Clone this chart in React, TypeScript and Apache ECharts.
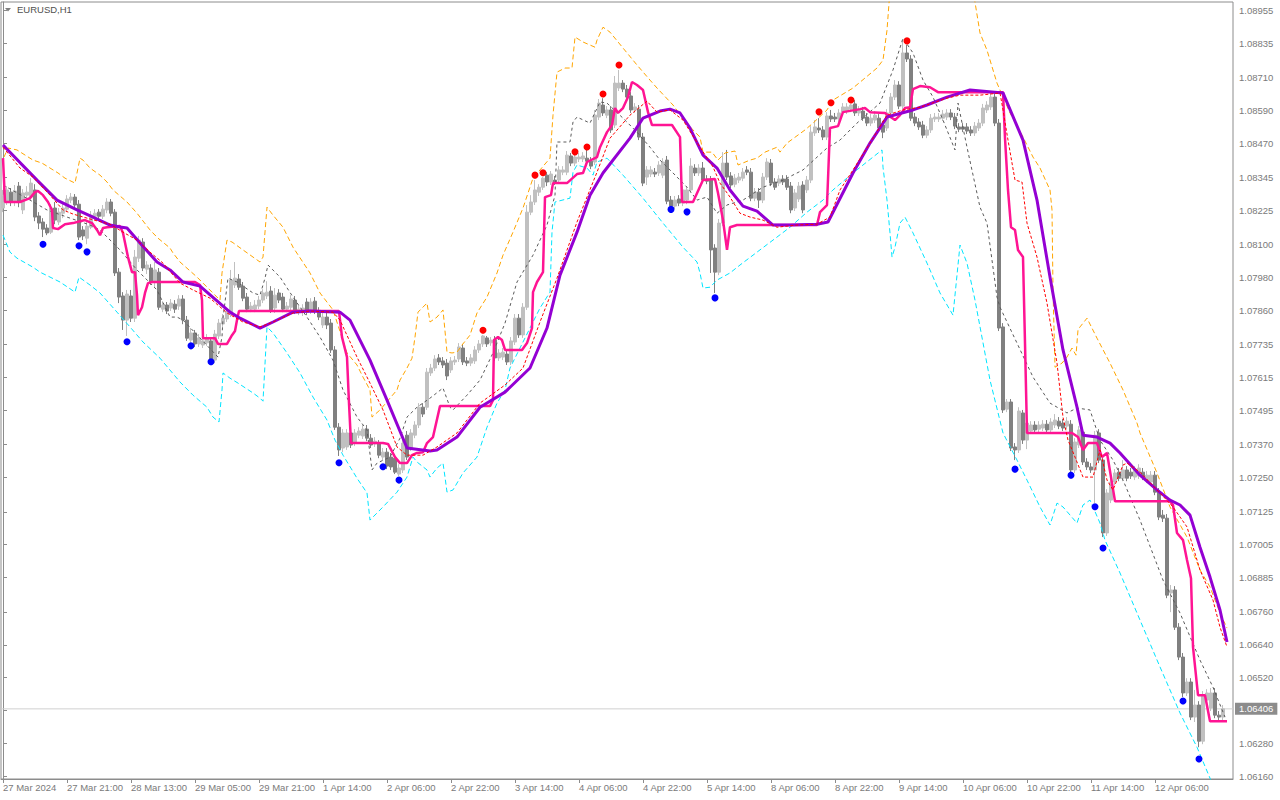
import React, { useEffect, useRef } from "react";
import * as echarts from "echarts";

// ---- categories (H1 bars) ----
const DAYS: [string, number, number][] = [
  ["27 Mar", 5, 23], ["28 Mar", 0, 23], ["29 Mar", 0, 22],
  ["1 Apr", 0, 23], ["2 Apr", 0, 23], ["3 Apr", 0, 23], ["4 Apr", 0, 23], ["5 Apr", 0, 23],
  ["8 Apr", 0, 23], ["9 Apr", 0, 23], ["10 Apr", 0, 23], ["11 Apr", 0, 23], ["12 Apr", 0, 23],
];
const FIRST_LABEL = "27 Mar 2024";
const EMPTY_SLOTS = 2;

// ---- price axis ----
const Y_MIN = 1.0615;
const Y_MAX = 1.08986;
const PRICE_LABELS = [1.0616, 1.0628, 1.0652, 1.0664, 1.0676, 1.06885, 1.07005, 1.07125, 1.0725, 1.0737, 1.07495, 1.07615, 1.07735, 1.0786, 1.0798, 1.081, 1.08225, 1.08345, 1.0847, 1.0859, 1.0871, 1.08835, 1.08955];
const PRICE_TICKS = [1.0616, 1.0628, 1.064, 1.0652, 1.0664, 1.0676, 1.06885, 1.07005, 1.07125, 1.0725, 1.0737, 1.07495, 1.07615, 1.07735, 1.0786, 1.0798, 1.081, 1.08225, 1.08345, 1.0847, 1.0859, 1.0871, 1.08835, 1.08955];
const LAST_PRICE = 1.06406;

// ---- candles [open, close, low, high] ----
const OHLC: number[][] = [
[1.08234,1.08281,1.08219,1.08300],[1.08256,1.08300,1.08245,1.08314],[1.08292,1.08256,1.08241,1.08307],[1.08259,1.08296,1.08241,1.08318],
[1.08314,1.08256,1.08237,1.08329],[1.08227,1.08289,1.08212,1.08303],[1.08281,1.08292,1.08263,1.08314],[1.08274,1.08325,1.08263,1.08343],
[1.08300,1.08201,1.08186,1.08321],[1.08205,1.08179,1.08157,1.08219],[1.08183,1.08157,1.08128,1.08197],[1.08161,1.08143,1.08135,1.08175],
[1.08146,1.08234,1.08139,1.08248],[1.08234,1.08190,1.08175,1.08256],[1.08183,1.08219,1.08172,1.08234],[1.08215,1.08234,1.08197,1.08252],
[1.08230,1.08267,1.08219,1.08281],[1.08263,1.08274,1.08252,1.08289],[1.08274,1.08245,1.08234,1.08285],[1.08248,1.08128,1.08117,1.08263],
[1.08154,1.08132,1.08117,1.08168],[1.08124,1.08168,1.08102,1.08183],[1.08164,1.08208,1.08157,1.08223],[1.08204,1.08215,1.08190,1.08230],
[1.08219,1.08204,1.08194,1.08230],[1.08204,1.08230,1.08194,1.08245],[1.08227,1.08256,1.08215,1.08270],[1.08256,1.08215,1.08204,1.08267],
[1.08219,1.07997,1.07986,1.08230],[1.08000,1.07909,1.07887,1.08015],[1.07913,1.07825,1.07789,1.07927],[1.07825,1.07920,1.07767,1.07935],
[1.07913,1.07832,1.07818,1.07935],[1.07832,1.08055,1.07818,1.08081],[1.08051,1.08117,1.08037,1.08132],[1.08110,1.08015,1.08004,1.08124],
[1.08011,1.08026,1.07993,1.08040],[1.08015,1.07964,1.07953,1.08029],[1.07964,1.08008,1.07942,1.08037],[1.08000,1.07872,1.07862,1.08015],
[1.07865,1.07880,1.07854,1.07894],[1.07880,1.07858,1.07847,1.07891],[1.07869,1.07887,1.07858,1.07902],[1.07883,1.07865,1.07851,1.07898],
[1.07876,1.07902,1.07862,1.07916],[1.07902,1.07825,1.07810,1.07916],[1.07825,1.07759,1.07749,1.07840],[1.07752,1.07778,1.07742,1.07796],
[1.07778,1.07738,1.07727,1.07789],[1.07738,1.07760,1.07727,1.07774],[1.07734,1.07749,1.07723,1.07763],[1.07742,1.07760,1.07731,1.07774],
[1.07749,1.07679,1.07672,1.07763],[1.07679,1.07774,1.07668,1.07789],[1.07767,1.07814,1.07756,1.07829],[1.07811,1.07832,1.07800,1.07847],
[1.07829,1.07854,1.07818,1.07869],[1.07847,1.07971,1.07836,1.08008],[1.07953,1.07978,1.07942,1.08037],[1.07975,1.07945,1.07935,1.07993],
[1.07949,1.07905,1.07894,1.07964],[1.07909,1.07865,1.07854,1.07924],[1.07865,1.07876,1.07854,1.07891],[1.07865,1.07880,1.07854,1.07898],
[1.07876,1.07898,1.07865,1.07913],[1.07898,1.07924,1.07887,1.07938],[1.07913,1.07927,1.07902,1.07967],[1.07931,1.07862,1.07851,1.07949],
[1.07869,1.07916,1.07851,1.07942],[1.07924,1.07898,1.07887,1.07938],[1.07909,1.07865,1.07854,1.07924],[1.07865,1.07876,1.07854,1.07891],
[1.07872,1.07902,1.07862,1.07916],[1.07898,1.07858,1.07847,1.07913],[1.07854,1.07865,1.07843,1.07880],[1.07854,1.07869,1.07840,1.07883],
[1.07891,1.07854,1.07843,1.07905],[1.07858,1.07891,1.07847,1.07905],[1.07894,1.07858,1.07847,1.07909],[1.07858,1.07836,1.07825,1.07872],
[1.07807,1.07836,1.07796,1.07851],[1.07836,1.07807,1.07792,1.07851],[1.07814,1.07716,1.07705,1.07829],[1.07716,1.07434,1.07424,1.07730],
[1.07434,1.07351,1.07329,1.07449],[1.07358,1.07413,1.07343,1.07427],[1.07362,1.07413,1.07351,1.07427],[1.07413,1.07369,1.07358,1.07427],
[1.07376,1.07413,1.07365,1.07427],[1.07405,1.07420,1.07394,1.07434],[1.07402,1.07427,1.07391,1.07442],[1.07427,1.07394,1.07383,1.07442],
[1.07394,1.07369,1.07358,1.07409],[1.07373,1.07383,1.07362,1.07398],[1.07373,1.07332,1.07321,1.07387],[1.07325,1.07343,1.07314,1.07358],
[1.07343,1.07292,1.07281,1.07358],[1.07325,1.07289,1.07278,1.07340],[1.07321,1.07270,1.07263,1.07336],[1.07263,1.07285,1.07256,1.07299],
[1.07278,1.07376,1.07267,1.07391],[1.07405,1.07325,1.07314,1.07420],[1.07358,1.07413,1.07347,1.07427],[1.07405,1.07442,1.07394,1.07456],
[1.07442,1.07507,1.07431,1.07522],[1.07507,1.07482,1.07471,1.07522],[1.07507,1.07635,1.07497,1.07650],[1.07632,1.07650,1.07621,1.07665],
[1.07650,1.07683,1.07639,1.07697],[1.07687,1.07672,1.07661,1.07701],[1.07676,1.07661,1.07650,1.07690],[1.07668,1.07621,1.07606,1.07683],
[1.07643,1.07676,1.07632,1.07690],[1.07672,1.07679,1.07661,1.07694],[1.07683,1.07727,1.07672,1.07741],[1.07723,1.07672,1.07661,1.07738],
[1.07676,1.07668,1.07657,1.07690],[1.07668,1.07687,1.07657,1.07701],[1.07676,1.07716,1.07665,1.07730],[1.07716,1.07738,1.07705,1.07752],
[1.07738,1.07767,1.07727,1.07771],[1.07760,1.07738,1.07727,1.07767],[1.07742,1.07752,1.07731,1.07763],[1.07752,1.07687,1.07676,1.07767],
[1.07687,1.07705,1.07676,1.07719],[1.07690,1.07708,1.07679,1.07723],[1.07701,1.07672,1.07661,1.07716],[1.07672,1.07749,1.07661,1.07763],
[1.07745,1.07832,1.07734,1.07847],[1.07832,1.07771,1.07760,1.07847],[1.07771,1.07872,1.07760,1.07887],[1.07872,1.08219,1.07862,1.08245],
[1.08219,1.08256,1.08208,1.08281],[1.08256,1.08300,1.08245,1.08336],[1.08292,1.08310,1.08278,1.08321],[1.08310,1.08343,1.08300,1.08347],
[1.08354,1.08329,1.08314,1.08365],[1.08329,1.08358,1.08318,1.08369],[1.08336,1.08329,1.08318,1.08351],[1.08336,1.08373,1.08325,1.08387],
[1.08365,1.08373,1.08354,1.08387],[1.08365,1.08427,1.08354,1.08442],[1.08424,1.08398,1.08387,1.08435],[1.08398,1.08420,1.08387,1.08431],
[1.08413,1.08420,1.08402,1.08435],[1.08413,1.08424,1.08402,1.08438],[1.08416,1.08405,1.08394,1.08446],[1.08405,1.08387,1.08376,1.08420],
[1.08402,1.08573,1.08391,1.08592],[1.08566,1.08617,1.08555,1.08632],[1.08610,1.08581,1.08570,1.08635],[1.08573,1.08592,1.08562,1.08606],
[1.08592,1.08519,1.08508,1.08606],[1.08537,1.08690,1.08526,1.08716],[1.08672,1.08690,1.08661,1.08738],[1.08690,1.08668,1.08657,1.08701],
[1.08668,1.08639,1.08628,1.08683],[1.08643,1.08592,1.08581,1.08657],[1.08592,1.08603,1.08581,1.08617],[1.08595,1.08493,1.08482,1.08610],
[1.08493,1.08325,1.08314,1.08508],[1.08347,1.08373,1.08318,1.08387],[1.08358,1.08373,1.08347,1.08387],[1.08365,1.08358,1.08347,1.08380],
[1.08362,1.08391,1.08351,1.08405],[1.08354,1.08402,1.08343,1.08416],[1.08409,1.08259,1.08248,1.08424],[1.08263,1.08241,1.08237,1.08278],
[1.08241,1.08263,1.08230,1.08278],[1.08267,1.08252,1.08241,1.08281],[1.08252,1.08300,1.08241,1.08314],[1.08263,1.08300,1.08248,1.08314],
[1.08300,1.08387,1.08289,1.08416],[1.08380,1.08362,1.08351,1.08394],[1.08362,1.08380,1.08351,1.08394],[1.08380,1.08336,1.08325,1.08402],
[1.08340,1.08332,1.08321,1.08354],[1.08336,1.08081,1.07997,1.08351],[1.08088,1.08000,1.07924,1.08102],[1.08000,1.08179,1.07989,1.08194],
[1.08179,1.08398,1.08168,1.08438],[1.08398,1.08347,1.08336,1.08446],[1.08351,1.08318,1.08307,1.08365],[1.08321,1.08343,1.08310,1.08358],
[1.08336,1.08347,1.08325,1.08362],[1.08343,1.08365,1.08332,1.08380],[1.08373,1.08365,1.08354,1.08387],[1.08365,1.08270,1.08259,1.08380],
[1.08270,1.08292,1.08259,1.08307],[1.08292,1.08263,1.08234,1.08307],[1.08263,1.08347,1.08252,1.08362],[1.08347,1.08402,1.08336,1.08416],
[1.08398,1.08325,1.08314,1.08413],[1.08329,1.08310,1.08300,1.08343],[1.08325,1.08340,1.08314,1.08354],[1.08340,1.08329,1.08318,1.08354],
[1.08340,1.08310,1.08300,1.08354],[1.08314,1.08227,1.08215,1.08329],[1.08234,1.08289,1.08223,1.08303],[1.08267,1.08314,1.08256,1.08329],
[1.08318,1.08227,1.08215,1.08332],[1.08300,1.08336,1.08289,1.08351],[1.08336,1.08511,1.08325,1.08533],[1.08508,1.08530,1.08497,1.08555],
[1.08526,1.08519,1.08508,1.08562],[1.08519,1.08493,1.08482,1.08533],[1.08493,1.08570,1.08482,1.08584],[1.08570,1.08559,1.08548,1.08592],
[1.08566,1.08559,1.08548,1.08581],[1.08559,1.08581,1.08548,1.08595],[1.08584,1.08603,1.08573,1.08617],[1.08588,1.08603,1.08577,1.08617],
[1.08595,1.08610,1.08584,1.08614],[1.08614,1.08581,1.08570,1.08628],[1.08581,1.08592,1.08570,1.08606],[1.08588,1.08562,1.08552,1.08603],
[1.08566,1.08544,1.08533,1.08581],[1.08544,1.08562,1.08533,1.08577],[1.08555,1.08573,1.08544,1.08588],[1.08562,1.08526,1.08515,1.08577],
[1.08537,1.08511,1.08489,1.08552],[1.08526,1.08581,1.08515,1.08595],[1.08581,1.08639,1.08570,1.08654],[1.08639,1.08683,1.08628,1.08701],
[1.08683,1.08606,1.08595,1.08697],[1.08606,1.08800,1.08595,1.08847],[1.08800,1.08778,1.08767,1.08829],[1.08778,1.08562,1.08552,1.08792],
[1.08566,1.08544,1.08533,1.08581],[1.08548,1.08530,1.08519,1.08562],[1.08537,1.08500,1.08489,1.08552],[1.08500,1.08519,1.08489,1.08533],
[1.08519,1.08562,1.08508,1.08577],[1.08559,1.08566,1.08548,1.08581],[1.08559,1.08566,1.08548,1.08581],[1.08562,1.08577,1.08552,1.08592],
[1.08566,1.08581,1.08555,1.08595],[1.08581,1.08566,1.08555,1.08595],[1.08566,1.08533,1.08522,1.08581],[1.08530,1.08522,1.08511,1.08544],
[1.08530,1.08522,1.08511,1.08544],[1.08530,1.08515,1.08504,1.08544],[1.08519,1.08508,1.08497,1.08533],[1.08508,1.08533,1.08497,1.08548],
[1.08526,1.08544,1.08515,1.08559],[1.08544,1.08599,1.08533,1.08614],[1.08592,1.08610,1.08581,1.08624],[1.08603,1.08639,1.08592,1.08654],
[1.08639,1.08544,1.08533,1.08654],[1.08544,1.07796,1.07785,1.08559],[1.07800,1.07497,1.07486,1.07814],[1.07500,1.07526,1.07489,1.07537],
[1.07526,1.07358,1.07347,1.07537],[1.07362,1.07351,1.07314,1.07376],[1.07351,1.07493,1.07340,1.07507],[1.07486,1.07387,1.07373,1.07497],
[1.07387,1.07449,1.07354,1.07467],[1.07420,1.07442,1.07409,1.07456],[1.07442,1.07424,1.07413,1.07456],[1.07427,1.07442,1.07416,1.07456],
[1.07431,1.07445,1.07420,1.07460],[1.07445,1.07424,1.07413,1.07460],[1.07424,1.07453,1.07413,1.07467],[1.07442,1.07460,1.07431,1.07482],
[1.07456,1.07438,1.07427,1.07471],[1.07449,1.07431,1.07420,1.07464],[1.07438,1.07456,1.07427,1.07471],[1.07445,1.07278,1.07270,1.07460],
[1.07278,1.07380,1.07267,1.07394],[1.07369,1.07424,1.07358,1.07438],[1.07416,1.07307,1.07296,1.07431],[1.07307,1.07289,1.07278,1.07321],
[1.07289,1.07278,1.07267,1.07303],[1.07278,1.07405,1.07157,1.07420],[1.07413,1.07314,1.07303,1.07427],[1.07314,1.07048,1.07033,1.07329],
[1.07048,1.07194,1.07037,1.07208],[1.07168,1.07234,1.07157,1.07248],[1.07234,1.07267,1.07223,1.07281],[1.07270,1.07248,1.07237,1.07285],
[1.07248,1.07278,1.07237,1.07314],[1.07278,1.07248,1.07237,1.07292],[1.07270,1.07256,1.07245,1.07285],[1.07252,1.07278,1.07241,1.07292],
[1.07256,1.07285,1.07245,1.07299],[1.07270,1.07252,1.07241,1.07285],[1.07241,1.07259,1.07230,1.07274],[1.07234,1.07259,1.07223,1.07274],
[1.07259,1.07197,1.07186,1.07274],[1.07197,1.07106,1.07095,1.07212],[1.07113,1.07102,1.07088,1.07132],[1.07102,1.06821,1.06810,1.07117],
[1.06829,1.06840,1.06759,1.06858],[1.06840,1.06704,1.06694,1.06854],[1.06704,1.06595,1.06584,1.06719],[1.06595,1.06464,1.06449,1.06610],
[1.06464,1.06504,1.06453,1.06518],[1.06504,1.06376,1.06365,1.06518],[1.06376,1.06420,1.06358,1.06475],[1.06420,1.06288,1.06266,1.06434],
[1.06288,1.06456,1.06277,1.06471],[1.06438,1.06464,1.06423,1.06478],[1.06409,1.06464,1.06398,1.06482],[1.06464,1.06383,1.06372,1.06482],
[1.06383,1.06376,1.06365,1.06398],[1.06376,1.06406,1.06365,1.06420],
];

// ---- indicator lines: [bar position, price] ----
const PURPLE = [[0,1.08464],[8.5,1.08336],[13.5,1.08263],[18.5,1.08227],[22.5,1.08201],[26.75,1.08172],[29.25,1.08165],[31,1.08161],[34.25,1.08106],[38.5,1.08037],[41.75,1.08008],[45,1.07964],[49.25,1.07949],[56.75,1.07854],[59.25,1.07832],[64.25,1.07796],[67.5,1.07818],[72.5,1.07854],[76.75,1.07858],[84.25,1.07854],[86.75,1.07825],[91.75,1.07679],[96,1.07533],[101,1.07358],[106.75,1.07347],[108.5,1.07351],[113.5,1.07398],[119.25,1.07507],[125.5,1.07562],[131.75,1.0765],[136,1.07796],[139.25,1.07989],[143.5,1.08146],[146.75,1.08281],[150,1.08362],[156.75,1.08489],[160,1.08562],[164.25,1.08588],[166.75,1.08595],[169.25,1.08581],[171.75,1.08526],[175,1.08427],[178.5,1.0838],[181.75,1.083],[185,1.08241],[188.5,1.08223],[192.5,1.08172],[196.75,1.08172],[203.5,1.08175],[206.25,1.08183],[212.5,1.08362],[216.75,1.08471],[221,1.08566],[227.5,1.08592],[231,1.0861],[236,1.08639],[241.75,1.08665],[250,1.08654],[255,1.08482],[258.5,1.08263],[261.75,1.07982],[265,1.07716],[268.5,1.07507],[270,1.07405],[273.5,1.07398],[276.75,1.07376],[279.25,1.0734],[284.25,1.07259],[288.5,1.07205],[291.75,1.07168],[294.25,1.0715],[296.75,1.07113],[299.25,1.06996],[301.75,1.06887],[304.25,1.06767],[306,1.0665]];

const PINK = [[0,1.08416],[0.5,1.08256],[4.25,1.08256],[6.75,1.0827],[8,1.08292],[8.75,1.08296],[10,1.08281],[11.25,1.08256],[12.25,1.08227],[12.5,1.08161],[13.75,1.08157],[15.5,1.08175],[17.5,1.08179],[19.25,1.08186],[20.5,1.0819],[22.25,1.08179],[23.5,1.08154],[24.25,1.08135],[25,1.08161],[26,1.08164],[29.25,1.08168],[30,1.08143],[31.25,1.08055],[32.25,1.08],[33,1.08],[33.5,1.07916],[33.75,1.07843],[34.75,1.07872],[35.5,1.07924],[36.25,1.0796],[37.25,1.07964],[48,1.07964],[49.25,1.07953],[49.75,1.07898],[50,1.07759],[53,1.07759],[53.75,1.07738],[56,1.07738],[57.25,1.0777],[58,1.07785],[58.5,1.07825],[59,1.07858],[84,1.07858],[84.75,1.07763],[86,1.0769],[86.5,1.07522],[87,1.07376],[95,1.07376],[96.25,1.07373],[98,1.07325],[99.25,1.07303],[101,1.07303],[102.25,1.07332],[103.5,1.0734],[105,1.07343],[106,1.07376],[107.5,1.07398],[109.25,1.07511],[121.75,1.07511],[122.5,1.07533],[122.75,1.07752],[123.75,1.07763],[124.75,1.07752],[125.5,1.07716],[129.75,1.07716],[131,1.07741],[132.25,1.07796],[132.5,1.07927],[133.5,1.07964],[135,1.08],[135.5,1.08274],[137,1.08281],[137.5,1.08325],[141,1.08325],[143.5,1.08358],[145,1.08362],[146,1.08402],[148.5,1.0842],[149.25,1.08456],[151,1.08511],[152.25,1.08537],[153,1.08599],[153.75,1.08581],[155,1.08599],[156.25,1.08639],[157.25,1.08694],[158.5,1.08683],[160,1.08665],[161.25,1.08584],[162.25,1.08537],[167.25,1.08537],[169.25,1.08493],[169.75,1.08256],[172.5,1.08256],[175,1.08336],[178,1.0834],[178.75,1.08289],[180,1.0819],[181,1.08081],[181.75,1.08164],[183.5,1.08172],[203.5,1.08172],[204.25,1.08219],[206,1.08245],[206.75,1.08526],[208.75,1.08533],[210,1.08584],[214.25,1.08595],[215.5,1.08599],[216.75,1.08584],[220.5,1.08581],[221.25,1.08573],[223,1.08555],[224.25,1.08573],[225.5,1.08599],[226.75,1.08602],[227.5,1.08668],[229.25,1.08679],[231.75,1.08675],[233.75,1.08657],[250,1.08657],[250.5,1.08489],[251.25,1.083],[252,1.08164],[253,1.08154],[253.75,1.08081],[255,1.08055],[255.5,1.07741],[256,1.07413],[267.25,1.07413],[268.75,1.07398],[270,1.07351],[271.25,1.07376],[273.5,1.07376],[274.75,1.07325],[276,1.0734],[277.25,1.0723],[278,1.07164],[291.75,1.07164],[292.5,1.0715],[293.5,1.07048],[295,1.07022],[296,1.06949],[297,1.06883],[297.5,1.06632],[298.75,1.06456],[300.5,1.06456],[301.75,1.06361],[306,1.06361]];

const ORANGE = [[0.25,1.0842],[1.25,1.08453],[3.5,1.08446],[7.5,1.08409],[9.75,1.08398],[13.75,1.08362],[15.5,1.08343],[18,1.08325],[19.25,1.08416],[20,1.08409],[21.75,1.0838],[24.25,1.08354],[26,1.08329],[27.5,1.083],[31,1.08256],[33.5,1.08215],[36.75,1.08154],[38.75,1.08124],[41.75,1.08088],[42.5,1.0807],[44.25,1.08037],[48.5,1.07982],[54.25,1.07898],[54.75,1.07997],[56,1.08117],[57.25,1.0811],[60,1.08081],[64.25,1.08037],[65,1.08055],[66,1.08237],[67.5,1.08208],[70,1.08164],[72.5,1.08091],[76.75,1.07997],[79.25,1.07924],[82.5,1.07862],[86,1.07705],[88.5,1.07661],[90,1.07617],[91.75,1.0757],[92.25,1.07471],[94.25,1.07497],[98.5,1.0757],[99.25,1.07606],[101,1.0765],[102.25,1.07686],[103,1.07763],[103.75,1.07854],[106,1.07887],[106.75,1.07818],[108.5,1.07836],[110,1.07862],[111,1.07708],[112.25,1.07705],[113.5,1.07708],[114.75,1.07734],[116.75,1.0777],[118.5,1.07851],[121,1.07909],[123.5,1.07997],[125,1.08062],[127.5,1.08146],[130,1.08234],[132.5,1.08343],[136.75,1.08416],[137.5,1.08573],[138.5,1.0873],[140.5,1.08745],[142.25,1.08745],[143,1.08858],[145,1.0884],[148,1.08821],[148.5,1.08847],[150,1.08894],[151.75,1.08876],[155,1.08818],[158.5,1.08756],[161.75,1.08701],[163.5,1.08672],[167.5,1.0861],[170,1.08562],[172.5,1.08519],[174.25,1.08493],[175,1.08438],[177.25,1.08438],[178.75,1.08409],[180.5,1.08435],[183,1.08442],[183.75,1.08391],[186.75,1.08409],[188.5,1.08416],[190.5,1.08438],[193.5,1.08456],[194.25,1.08438],[196,1.08471],[200.5,1.08519],[202.5,1.08544],[206,1.08592],[207.5,1.08628],[212.5,1.08672],[218.5,1.08745],[220,1.08774],[221,1.08883],[221.75,1.0903],[242.5,1.0903],[244.25,1.08873],[246,1.0881],[248.5,1.0869],[251.75,1.08581],[255,1.08493],[257.5,1.0842],[259.25,1.0838],[261.75,1.083],[262.25,1.08227],[262.5,1.07935],[263,1.07653],[264.75,1.07668],[266,1.0769],[267.25,1.07723],[268.25,1.07697],[268.75,1.07789],[269.25,1.078],[271,1.07832],[273.5,1.07759],[276.75,1.07668],[280,1.0757],[283.5,1.07449],[284.25,1.07413],[288.5,1.07267],[291.75,1.07143],[296,1.07033],[299.25,1.06913],[301.75,1.06851],[304.25,1.06756],[306,1.06701]];

const CYAN = [[0,1.08135],[1.75,1.08073],[3.5,1.08051],[7.5,1.08018],[9.25,1.08],[14.25,1.07964],[18,1.07927],[19,1.07982],[21.75,1.07953],[24.25,1.07924],[28.5,1.07854],[31.75,1.078],[35,1.07745],[39.25,1.07686],[44.25,1.07599],[47.5,1.07551],[51,1.07507],[52.5,1.07471],[54,1.07453],[54.75,1.0757],[55,1.07632],[56.75,1.07613],[58.75,1.07595],[62.5,1.07559],[64.25,1.0754],[65,1.07529],[66,1.078],[67.5,1.07778],[71,1.07705],[74.25,1.07632],[77.5,1.07544],[81,1.0746],[83,1.07387],[85,1.07332],[88.5,1.07248],[91,1.07194],[91.75,1.07095],[95,1.07143],[98.5,1.07197],[101,1.07252],[102.5,1.07325],[103.5,1.07307],[106,1.07278],[106.75,1.07252],[108.5,1.07285],[110,1.07303],[110.5,1.07252],[111,1.07197],[112.5,1.07205],[115,1.07267],[118.5,1.07325],[121,1.07434],[123.5,1.07522],[125.5,1.0757],[126.75,1.0765],[130,1.07745],[134.25,1.07869],[136.75,1.07927],[137.25,1.08146],[138,1.08256],[141.75,1.0827],[142.5,1.08365],[143.5,1.08391],[146,1.0838],[147.5,1.08354],[148.5,1.08402],[151,1.08416],[155,1.08354],[160,1.0827],[165,1.08179],[170,1.08091],[173.5,1.08037],[174.25,1.07997],[175,1.07942],[176.75,1.07945],[178.5,1.07971],[181.75,1.07997],[184.25,1.08026],[188.5,1.08073],[193.5,1.08128],[196.75,1.08164],[201,1.08219],[205,1.08263],[207.5,1.083],[212.5,1.08362],[217.5,1.0842],[219.75,1.08446],[220,1.08383],[221,1.08263],[221.75,1.08143],[222.25,1.08055],[223,1.08091],[224.25,1.08179],[225.5,1.08201],[227.5,1.08143],[231,1.08033],[234.25,1.07924],[237.5,1.07843],[239.25,1.08099],[241,1.08033],[243,1.07898],[246.75,1.07606],[250,1.07413],[253.5,1.07314],[256,1.07241],[259.25,1.07143],[261.75,1.07077],[263.5,1.07157],[265,1.07143],[268.5,1.07084],[270,1.0715],[271.75,1.07168],[274.25,1.07084],[275.5,1.07022],[279.25,1.06902],[284.25,1.0673],[289.25,1.06559],[294.25,1.06391],[298.5,1.06266],[301.75,1.06153],[303,1.0611]];

const BLACK = [[0,1.08318],[6.75,1.08263],[11,1.08227],[16,1.08201],[21.75,1.08172],[24.25,1.08154],[29.25,1.08081],[33.5,1.08008],[38.5,1.07935],[41.75,1.07836],[43.5,1.07836],[45,1.07825],[53.75,1.0769],[54.75,1.07763],[55,1.07832],[56.25,1.07978],[58.5,1.07964],[62.5,1.07924],[64.25,1.07916],[65.5,1.07978],[66.25,1.08026],[69.25,1.07982],[72.5,1.07909],[76,1.07836],[79.25,1.07763],[82.5,1.07679],[85,1.0757],[88.5,1.07471],[91,1.07424],[92.25,1.07278],[93.5,1.07303],[96.75,1.07325],[99.25,1.07394],[101,1.07471],[103.5,1.07507],[106.75,1.0754],[110,1.07577],[111.75,1.07507],[112.5,1.07497],[116,1.07551],[119.25,1.07606],[122.5,1.07705],[125.5,1.07814],[128.5,1.07964],[132.5,1.08062],[136,1.08172],[138,1.08281],[138.5,1.08475],[141.75,1.08475],[142.5,1.08548],[143.5,1.08566],[146.75,1.08544],[149.25,1.08621],[151,1.08617],[155,1.08562],[158.5,1.08511],[161.75,1.08456],[164.25,1.08409],[167.5,1.08362],[171,1.0831],[173.5,1.08263],[176,1.08274],[178.5,1.08215],[181,1.08245],[185,1.08263],[190,1.0831],[195,1.08336],[200,1.08373],[206,1.08453],[209.25,1.08482],[213.5,1.08544],[219.25,1.08617],[222.5,1.08738],[225,1.08854],[227.5,1.088],[230,1.08701],[232.5,1.08639],[235,1.08555],[238,1.08446],[238.75,1.08617],[241,1.08456],[244.25,1.08237],[246,1.08179],[248.5,1.07909],[249.25,1.07872],[253.5,1.07741],[257.5,1.07617],[261.75,1.07522],[266,1.07486],[268.5,1.07504],[271.75,1.07497],[274.25,1.07387],[277.5,1.07314],[280,1.07241],[284.25,1.07095],[290,1.06876],[294.25,1.06756],[299.25,1.06584],[302.5,1.06485],[305.5,1.06376]];

const RED_DOTTED = [[0,1.08456],[4.25,1.0838],[7.5,1.08347],[11.75,1.08281],[15,1.08227],[17.5,1.08212],[21.75,1.08194],[26.75,1.08175],[30,1.08146],[33.5,1.08117],[36.75,1.08073],[40,1.08033],[44.25,1.0796],[47.5,1.07935],[51.75,1.07905],[56,1.07851],[60,1.07818],[64.25,1.078],[67.5,1.07818],[72.5,1.07851],[76.75,1.07858],[82.5,1.07854],[84.25,1.07825],[88.5,1.0769],[91.75,1.07595],[95,1.07497],[98.5,1.07362],[101,1.07332],[105,1.07332],[108.5,1.07362],[113.5,1.07413],[119.25,1.07522],[125.5,1.07588],[130,1.0765],[134.25,1.07818],[138.5,1.07978],[143.5,1.08183],[148.5,1.08365],[151.75,1.08489],[156.75,1.08573],[161,1.08624],[163.5,1.08584],[166.75,1.08592],[170,1.08555],[174.25,1.08456],[177.5,1.08384],[179.25,1.08325],[181.75,1.08274],[184.25,1.08215],[186.75,1.08201],[190,1.0819],[193.5,1.08164],[198.5,1.08172],[203.5,1.08175],[206.75,1.08201],[209.25,1.083],[212.5,1.08373],[216.75,1.08471],[221,1.08573],[225,1.08592],[229.25,1.08602],[236,1.08635],[239.25,1.08646],[244.25,1.08646],[249.25,1.08654],[250,1.08592],[251.25,1.08482],[253,1.08336],[254.75,1.08329],[256,1.08179],[258.5,1.08055],[261,1.07887],[263.5,1.07668],[265,1.07471],[266.25,1.07387],[268,1.07325],[270,1.07252],[272.5,1.07252],[274.25,1.07351],[276,1.07241],[277.5,1.07205],[280,1.07296],[281,1.07303],[284.25,1.0727],[289.25,1.07194],[292.5,1.07143],[296,1.0707],[299.25,1.06913],[302.5,1.06803],[304.25,1.06704],[306,1.06632]];

const RED_DOTS = [[120,1.07788],[133,1.08354],[135,1.08363],[143,1.08439],[146,1.08457],[150,1.0865],[154,1.08756],[204,1.08585],[207,1.08618],[212,1.08628],[226,1.08844]];
const BLUE_DOTS = [[10,1.08102],[19,1.08096],[21,1.08074],[31,1.07746],[47,1.07731],[52,1.07673],[84,1.07304],[95,1.0729],[99,1.07241],[167,1.08229],[171,1.0822],[178,1.07906],[253,1.07281],[267,1.07259],[273,1.07144],[275,1.06993],[295,1.06435],[299,1.06223]];

const FONT = "'Liberation Sans', Arial, sans-serif";
const AXIS_COLOR = "#8c8c8c";
const LABEL_COLOR = "#7a7a7a";

function buildCategories(): string[] {
  const out: string[] = [];
  DAYS.forEach(([d, a, b]) => {
    for (let h = a; h <= b; h++) out.push(`${d} ${String(h).padStart(2, "0")}:00`);
  });
  for (let k = 0; k < EMPTY_SLOTS; k++) out.push("");
  return out;
}

function lineSeries(name: string, data: number[][], color: string, width: number, type: any, z: number) {
  return {
    name, type: "line", xAxisIndex: 1, yAxisIndex: 0, data,
    showSymbol: false, symbol: "none", silent: true, clip: true, z,
    lineStyle: { color, width, type },
  };
}

export default function App() {
  const ref = useRef<HTMLDivElement>(null);
  useEffect(() => {
    if (!ref.current) return;
    const chart = echarts.init(ref.current, null, { renderer: "svg" });
    const categories = buildCategories();
    const nCat = categories.length;
    chart.setOption({
      animation: false,
      backgroundColor: "#ffffff",
      grid: {
        left: 1, top: 2, width: 1232, height: 777,
        show: true, borderColor: AXIS_COLOR, borderWidth: 1,
        outerBoundsMode: "none", containLabel: false,
      },
      graphic: [
        { type: "polygon", shape: { points: [[5, 8], [11, 8], [8, 11.5]] }, style: { fill: "#808080" } },
        { type: "text", left: 17, top: 4, style: { text: "EURUSD,H1", fill: "#505050", font: `9.5px ${FONT}` } },
      ],
      xAxis: [
        {
          type: "category", data: categories, boundaryGap: true,
          axisLine: { show: true, lineStyle: { color: AXIS_COLOR } },
          axisTick: { show: true, alignWithLabel: true, interval: 15, length: 4, lineStyle: { color: AXIS_COLOR } },
          axisLabel: {
            interval: 15, align: "left", margin: 3, color: LABEL_COLOR, fontSize: 9.5, fontFamily: FONT,
            showMaxLabel: false, showMinLabel: true,
            formatter: (v: string, i: number) => (i === 0 ? FIRST_LABEL : v),
          },
          splitLine: { show: false },
        },
        { type: "value", min: -0.5, max: nCat - 0.5, show: false },
      ],
      yAxis: [
        {
          type: "value", position: "right", min: Y_MIN, max: Y_MAX, scale: true,
          splitLine: { show: false },
          axisLine: { show: true, lineStyle: { color: AXIS_COLOR } },
          axisTick: { show: true, length: 4, customValues: PRICE_TICKS, lineStyle: { color: AXIS_COLOR } },
          axisLabel: {
            customValues: PRICE_LABELS, margin: 6, color: LABEL_COLOR, fontSize: 9.5, fontFamily: FONT,
            formatter: (v: number) => v.toFixed(5),
          },
        },
      ],
      series: [
        {
          type: "line", xAxisIndex: 1, yAxisIndex: 0, silent: true, z: 1,
          data: [[-0.5, LAST_PRICE], [nCat - 0.5, LAST_PRICE]],
          showSymbol: false, symbol: "none", clip: false,
          lineStyle: { color: "#d0d0d0", width: 1 },
          endLabel: {
            show: true, distance: 2, formatter: () => LAST_PRICE.toFixed(5),
            backgroundColor: "#8c8c8c", color: "#ffffff", padding: [1, 4, 1, 4], fontSize: 9.5, fontFamily: FONT,
          },
        },
        {
          type: "candlestick", xAxisIndex: 0, yAxisIndex: 0, data: OHLC, barWidth: 3, silent: true, z: 2,
          itemStyle: { color: "#c0c0c0", color0: "#808080", borderColor: "#c0c0c0", borderColor0: "#808080", borderWidth: 1 },
        },
        lineSeries("upper", ORANGE, "#ffa500", 1, [5, 3], 3),
        lineSeries("lower", CYAN, "#00e5ff", 1, [5, 3], 3),
        lineSeries("mid", BLACK, "#5a5a5a", 1, [3, 3], 3),
        lineSeries("step", PINK, "#ff1493", 2.5, "solid", 4),
        lineSeries("slow", PURPLE, "#9400d3", 3, "solid", 5),
        lineSeries("signal", RED_DOTTED, "#ff0000", 1, [3, 2], 6),
        {
          type: "scatter", xAxisIndex: 1, yAxisIndex: 0, data: RED_DOTS, symbol: "circle", symbolSize: 7,
          itemStyle: { color: "#ff0000", opacity: 1 }, silent: true, z: 7,
        },
        {
          type: "scatter", xAxisIndex: 1, yAxisIndex: 0, data: BLUE_DOTS, symbol: "circle", symbolSize: 7,
          itemStyle: { color: "#0000ff", opacity: 1 }, silent: true, z: 7,
        },
      ],
    });
    return () => chart.dispose();
  }, []);
  return <div ref={ref} style={{ position: "absolute", left: 0, top: 0, width: 1280, height: 800 }} />;
}
